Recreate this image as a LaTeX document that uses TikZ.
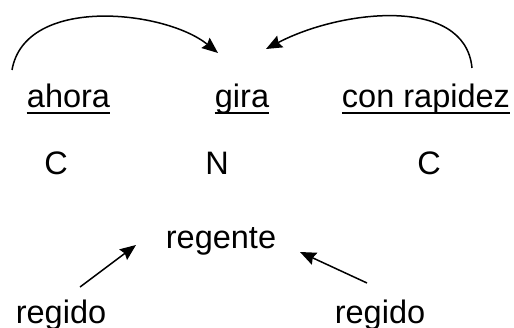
\documentclass[tikz,border=0pt]{standalone}
\usepackage{fontspec}
\setmainfont{Liberation Sans}
\usetikzlibrary{arrows.meta}
\tikzset{>={Stealth[width=13pt,length=16pt,inset=2pt]}}

\begin{document}
\begin{tikzpicture}[x=1pt, y=1pt, word/.style={inner sep=0pt, anchor=base, font=\fontsize{32.5}{39}\selectfont}, uline/.style={line width=2pt}, link/.style={->, line width=1.5pt}]

    \useasboundingbox (0,0) rectangle (514,327);

    %Nodes
    \node[word](ahora) at (68.5,219){ahora};
    \node[word](gira) at (242,219){gira};
    \node[word](rapidez) at (426,219){con rapidez};
    \node[word](compA) at (56,152){C};
    \node[word](nucleo) at (217,152){N};
    \node[word](compB) at (429,152){C};
    \node[word](regente) at (221,79){regente};
    \node[word](regidoA) at (61,4){regido};
    \node[word](regidoB) at (380,4){regido};

    %Ends
    \coordinate (fromA) at (12,257);
    \coordinate (toA) at (218,274);
    \coordinate (fromB) at (472,259);
    \coordinate (toB) at (266,278);
    \coordinate (fromC) at (80,40);
    \coordinate (toC) at (136,82);
    \coordinate (fromD) at (367,44);
    \coordinate (toD) at (300,75);

    %Underlines
    \draw[uline] ([yshift=-5pt]ahora.base west) -- ([yshift=-5pt]ahora.base east);
    \draw[uline] ([yshift=-5pt]gira.base west) -- ([yshift=-5pt]gira.base east);
    \draw[uline] ([yshift=-5pt]rapidez.base west) -- ([yshift=-5pt]rapidez.base east);

    %Lines
    \draw[link] (fromA) .. controls (25,332) and (165,317) .. (toA);
    \draw[link] (fromB) .. controls (465,332) and (340,317) .. (toB);
    \draw[link] (fromC) -- (toC);
    \draw[link] (fromD) -- (toD);

\end{tikzpicture}
\end{document}
